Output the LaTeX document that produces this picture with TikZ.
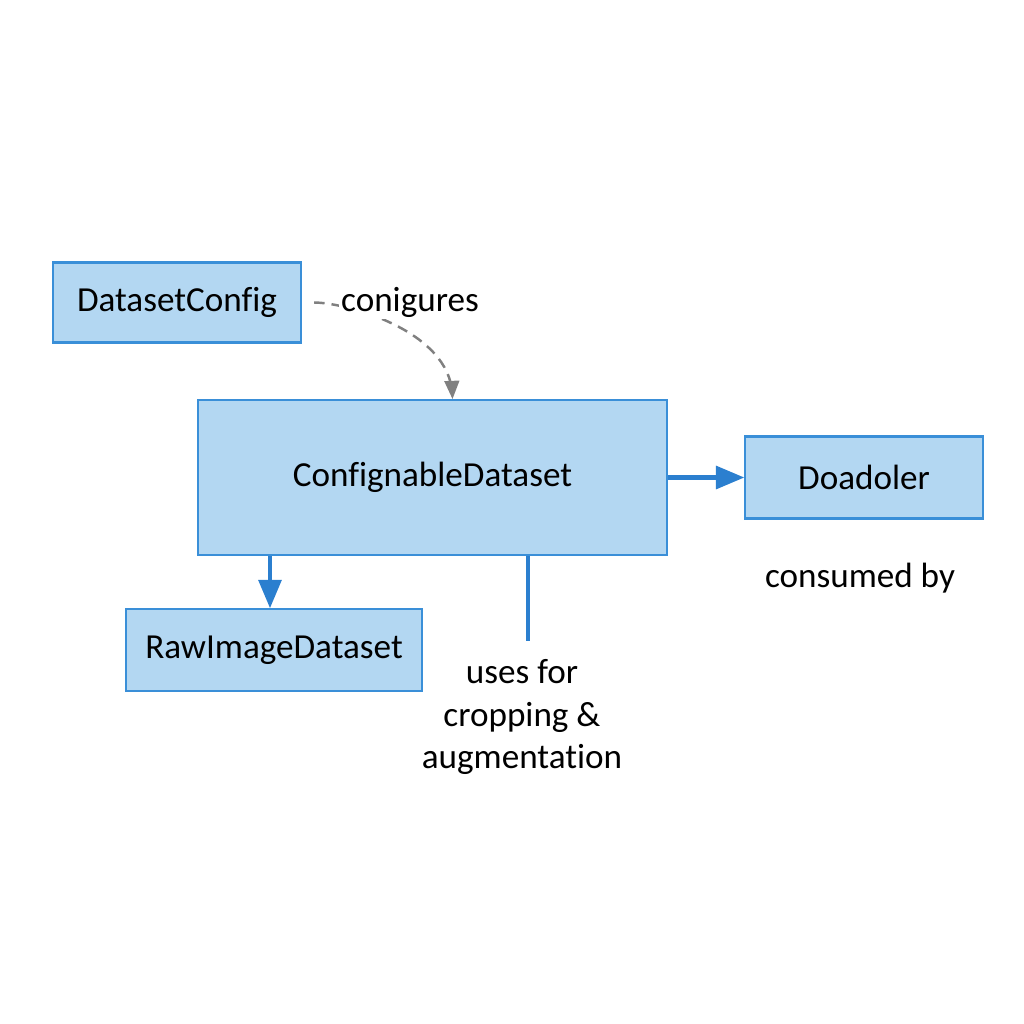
\documentclass[tikz,border=0pt]{standalone}
\usepackage{fontspec}
\setmainfont{Carlito}[Ligatures=NoCommon]
\usetikzlibrary{positioning,arrows}
\definecolor{boxfill}{HTML}{B3D7F2}
\definecolor{boxline}{HTML}{3A8FD8}
\definecolor{flow}{HTML}{2B7FCF}

\begin{document}
\begin{tikzpicture}[
    block/.style={rectangle,draw=boxline,line width=1.2pt,fill=boxfill,
		font=\fontsize{20}{24}\selectfont,text centered},
    note/.style={font=\fontsize{20}{24}\selectfont,align=center},
    flowline/.style={draw=flow,line width=2.8pt},
    cfgline/.style={draw=black!50,line width=1.4pt,dash pattern=on 6pt off 4pt},
    >=triangle 45
    ]
    \useasboundingbox (0,0) rectangle (20.48,-20.48);

    % Place nodes
    \node [block,minimum width=9.38cm,minimum height=3.1cm] (cd) at (8.65,-9.55) {ConfignableDataset};
    \node [block,minimum width=4.96cm,minimum height=1.6cm] (dc) at (3.54,-6.05) {DatasetConfig};
    \node [block,minimum width=4.76cm,minimum height=1.64cm,right=1.52cm of cd] (dl) {Doadoler};
    \node [block,minimum width=5.92cm,minimum height=1.64cm] (rid) at (5.48,-13.0) {RawImageDataset};

    \node [note] (consumed) at (17.2,-11.56) {consumed by};
    \node [note] (uses) at (10.44,-14.34) {uses for\\cropping \&\\augmentation};
    \coordinate (uses_end) at (10.56,-12.82);
    \coordinate (rid_in) at ([xshift=-0.08cm]rid.north);

    % Draw edges
    \draw [cfgline,->] ([xshift=0.24cm]dc.east) .. controls (6.9,-6.05) and (9.0,-6.6) .. ([xshift=0.4cm]cd.north);
    \node [note,fill=white,inner sep=1pt] (cfg) at (8.2,-6.05) {conigures};

    \draw [flowline,->] (cd) -- (dl);
    \draw [flowline,->] (cd.south -| rid_in) -- (rid_in);
    \draw [flowline] (cd.south -| uses_end) -- (uses_end);

\end{tikzpicture}
\end{document}
